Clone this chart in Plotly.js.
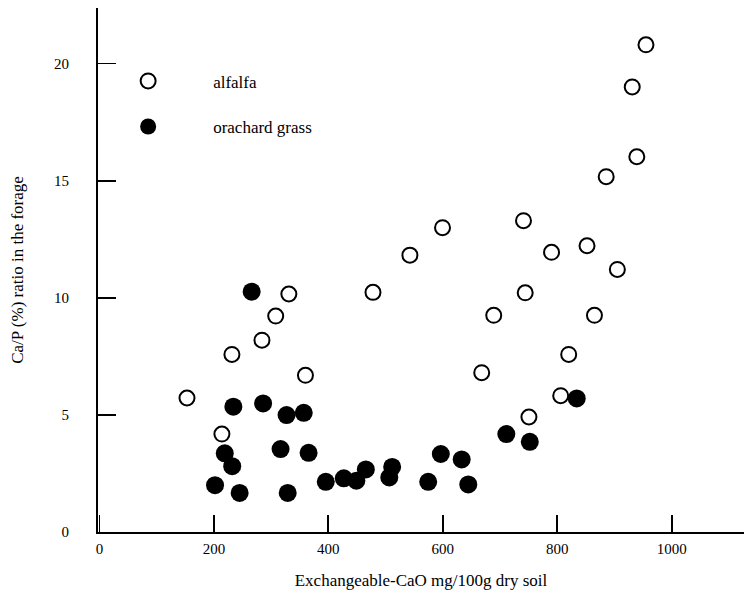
<!DOCTYPE html>
<html>
<head>
<meta charset="utf-8">
<script src="https://cdn.plot.ly/plotly-3.0.1.min.js"></script>
<style>html,body{margin:0;padding:0;background:#fff;}#chart{width:744px;height:601px;}</style>
</head>
<body>
<div id="chart"></div>
<script>
// Alfalfa (open circles)
const alfalfaX = [153, 214, 231.5, 284, 308, 331, 360, 478, 542.5, 599.5, 668, 689, 741, 744, 750.5, 790, 806, 820, 852, 865, 885.5, 905, 931, 939, 955];
const alfalfaY = [5.72, 4.18, 7.58, 8.19, 9.22, 10.16, 6.69, 10.23, 11.82, 12.99, 6.80, 9.25, 13.29, 10.21, 4.91, 11.94, 5.82, 7.58, 12.22, 9.25, 15.17, 11.21, 19.0, 16.02, 20.8];
// Orchard grass (filled circles)
const grassX = [202, 219, 232, 234, 245, 266, 286, 316.5, 327, 329, 357, 365.5, 395.5, 427, 449, 465.5, 506.5, 511.5, 574.5, 596.5, 633, 644.5, 711, 752, 834];
const grassY = [2.0, 3.36, 2.81, 5.35, 1.67, 10.26, 5.49, 3.54, 4.99, 1.67, 5.09, 3.38, 2.14, 2.29, 2.19, 2.67, 2.33, 2.78, 2.14, 3.33, 3.10, 2.03, 4.18, 3.85, 5.70];
const seriesNames = ["alfalfa", "orachard grass"];
const xTicks = [0, 200, 400, 600, 800, 1000];
const yTicks = [0, 5, 10, 15, 20];
const xTitle = "Exchangeable-CaO mg/100g dry soil";
const yTitle = "Ca/P (%) ratio in the forage";

const FONT = "Liberation Serif, Times New Roman, serif";

const traces = [
  {
    x: alfalfaX, y: alfalfaY, name: seriesNames[0], type: "scatter", mode: "markers",
    marker: {symbol: "circle", size: 15, color: "#ffffff", line: {color: "#000", width: 2}},
    legend: "legend", hoverinfo: "x+y"
  },
  {
    x: grassX, y: grassY, name: seriesNames[1], type: "scatter", mode: "markers",
    marker: {symbol: "circle", size: 18, color: "#000", line: {width: 0}},
    legend: "legend2", hoverinfo: "x+y"
  }
];

const legendBase = {
  xanchor: "left", yanchor: "middle", bgcolor: "rgba(0,0,0,0)", borderwidth: 0,
  font: {family: FONT, size: 17, color: "#000"}, itemwidth: 120, itemsizing: "trace"
};

const layout = {
  width: 744, height: 601,
  margin: {l: 98, r: 0, t: 8, b: 69},
  paper_bgcolor: "#fff", plot_bgcolor: "#fff",
  font: {family: FONT, size: 15, color: "#000"},
  showlegend: true,
  legend: Object.assign({}, legendBase, {x: -0.023, y: 0.86}),
  legend2: Object.assign({}, legendBase, {x: -0.023, y: 0.773}),
  xaxis: {
    range: [-2.5, 1126.3], tickvals: xTicks, ticktext: xTicks.map(String),
    ticks: "inside", ticklen: 17, tickwidth: 1.8, tickcolor: "#000",
    showline: true, linecolor: "#000", linewidth: 2, showgrid: false, zeroline: false,
    tickfont: {family: FONT, size: 15}, ticklabelstandoff: 2,
    title: {text: xTitle, font: {family: FONT, size: 17}, standoff: 18}
  },
  yaxis: {
    range: [0, 22.37], tickvals: yTicks, ticktext: yTicks.map(String),
    ticks: "inside", ticklen: 18, tickwidth: 1.8, tickcolor: "#000",
    showline: true, linecolor: "#000", linewidth: 2, showgrid: false, zeroline: false,
    tickfont: {family: FONT, size: 15}, ticklabelstandoff: 24,
    title: {text: yTitle, font: {family: FONT, size: 17}, standoff: 26}
  }
};

Plotly.newPlot("chart", traces, layout, {displayModeBar: false, staticPlot: true});
</script>
</body>
</html>
